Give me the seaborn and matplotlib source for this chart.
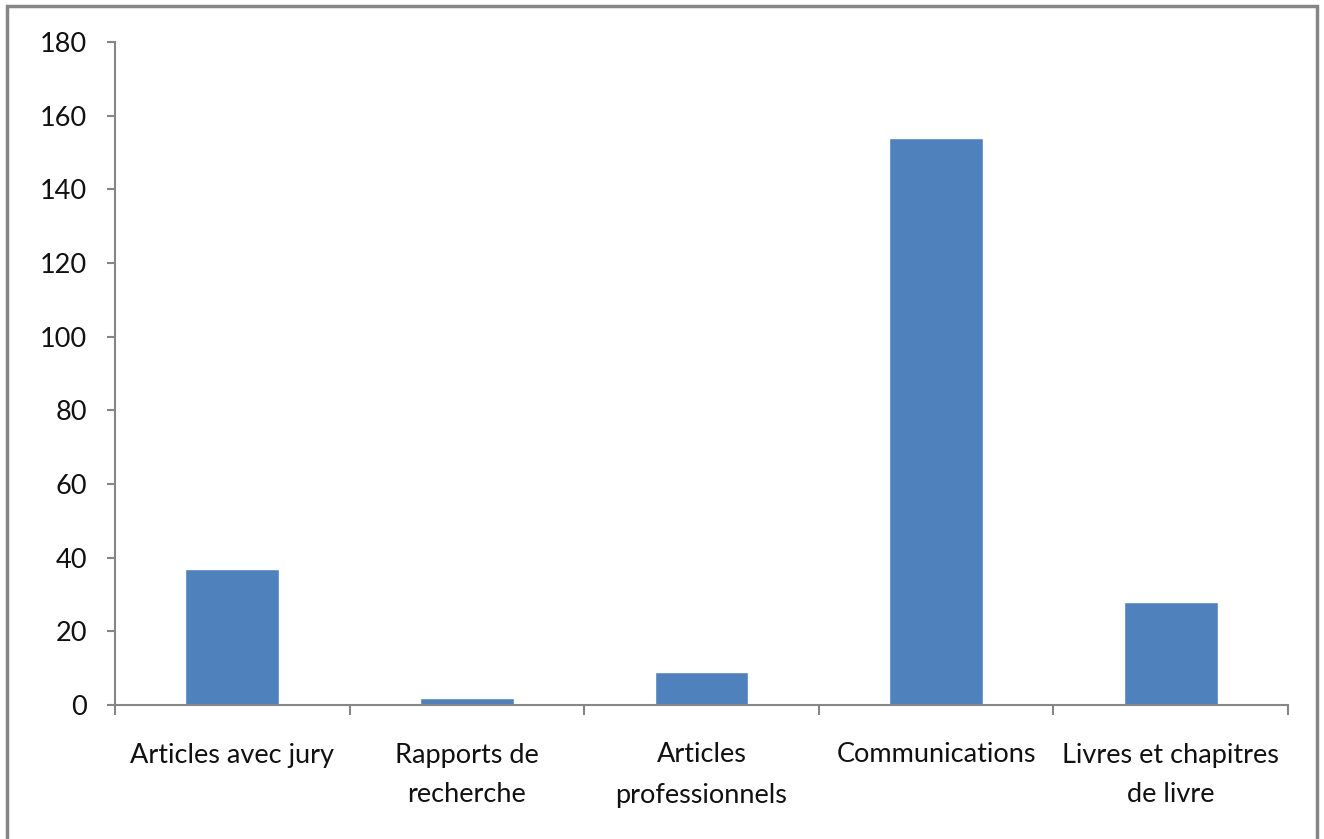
import matplotlib
matplotlib.use("Agg")
import matplotlib.pyplot as plt
import seaborn as sns
import pandas as pd
from matplotlib.patches import Rectangle

categories = ["Articles avec jury", "Rapports de\nrecherche", "Articles\nprofessionnels",
              "Communications", "Livres et chapitres\nde livre"]
values = [37, 2, 9, 154, 28]
yticks = [0, 20, 40, 60, 80, 100, 120, 140, 160, 180]

sns.set_style("white")
plt.rcParams['font.family'] = ['Lato', 'DejaVu Sans']

df = pd.DataFrame({"cat": categories, "n": values})

W, H = 1324, 839
fig = plt.figure(figsize=(W / 100, H / 100), dpi=100)
ax = fig.add_axes([115 / W, (H - 705) / H, (1288 - 115) / W, (705 - 42) / H])

sns.barplot(data=df, x="cat", y="n", color="#4F81BD", saturation=1, width=0.4, ax=ax)

grey = "#868686"
ax.set_ylim(0, 180)
ax.set_xlim(-0.5, len(categories) - 0.5)
ax.set_yticks(yticks)
ax.set_xlabel("")
ax.set_ylabel("")
for s in ["top", "right"]:
    ax.spines[s].set_visible(False)
for s in ["left", "bottom"]:
    ax.spines[s].set_color(grey)
    ax.spines[s].set_linewidth(1.5)

# ticks on x sit between categories, like the Excel original
ax.set_xticks([i - 0.5 for i in range(len(categories) + 1)], minor=True)
ax.tick_params(axis="x", which="major", bottom=False, length=0, pad=27, labelsize=19.5,
               labelcolor="#111111")
ax.tick_params(axis="x", which="minor", bottom=True, length=7, width=1.5, color=grey,
               direction="out")
ax.tick_params(axis="y", left=True, length=6, width=1.5, color=grey, direction="out", pad=14,
               labelsize=19.5, labelcolor="#111111")
for lab in ax.get_xticklabels():
    lab.set_linespacing(1.75)

# chart area border (bottom edge runs off the picture)
fig.patches.append(Rectangle((7 / W, -0.05), (1317 - 7) / W, 1.05 - 6 / H,
                             transform=fig.transFigure, fill=False,
                             edgecolor=grey, linewidth=2.5))

fig.savefig("out.png", dpi=100)
